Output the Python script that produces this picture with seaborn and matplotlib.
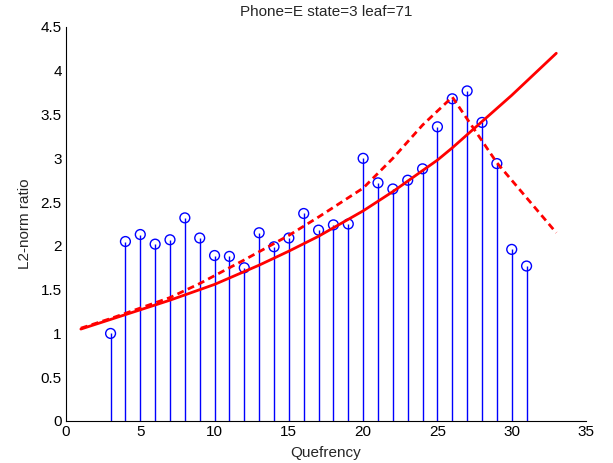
import numpy as np
import pandas as pd
import matplotlib
matplotlib.use("Agg")
import matplotlib.pyplot as plt
from matplotlib.ticker import FuncFormatter
import seaborn as sns

# Stem data
quefrency = [3, 4, 5, 6, 7, 8, 9, 10, 11, 12, 13, 14, 15, 16, 17, 18, 19,
             20, 21, 22, 23, 24, 25, 26, 27, 28, 29, 30, 31]
ratio = [1.00, 2.05, 2.13, 2.02, 2.07, 2.32, 2.09, 1.89, 1.88, 1.75, 2.15, 1.99,
         2.09, 2.37, 2.18, 2.24, 2.25, 3.00, 2.72, 2.65, 2.75, 2.88, 3.36, 3.68,
         3.77, 3.41, 2.94, 1.96, 1.77]

# Solid red curve
solid_x = [1, 3, 5, 7, 10, 13, 15, 17, 20, 22, 24, 25, 26, 27, 28, 30, 33]
solid_y = [1.05, 1.16, 1.27, 1.38, 1.56, 1.78, 1.94, 2.11, 2.40, 2.62, 2.86, 2.98,
           3.12, 3.27, 3.42, 3.72, 4.20]

# Dashed red curve
dash_x = [1, 3, 5, 7, 9, 10, 12, 15, 17, 20, 22, 24, 26, 27, 28, 29, 30, 31, 32, 33]
dash_y = [1.06, 1.17, 1.29, 1.41, 1.57, 1.66, 1.84, 2.12, 2.33, 2.66, 3.00, 3.38,
          3.70, 3.45, 3.20, 2.95, 2.75, 2.55, 2.35, 2.15]

title = "Phone=E state=3 leaf=71"
xlabel = "Quefrency"
ylabel = "L2-norm ratio"

sns.set_style("white")
plt.rcParams['font.family'] = ['Liberation Sans', 'DejaVu Sans']

fig = plt.figure(figsize=(6.13, 4.63), dpi=100)
ax = fig.add_axes([66/613, 1-421/463, (586-66)/613, (421-27)/463])

stem_df = pd.DataFrame({"q": quefrency, "r": ratio})
ax.vlines(stem_df["q"], 0, stem_df["r"], colors="#0000ff", linewidth=1.0, zorder=2)
sns.scatterplot(data=stem_df, x="q", y="r", ax=ax, marker="o", s=50,
                facecolor="none", edgecolor="#0000ff", linewidth=1.0, zorder=3)

solid_df = pd.DataFrame({"x": solid_x, "y": solid_y})
dash_df = pd.DataFrame({"x": dash_x, "y": dash_y})
sns.lineplot(data=solid_df, x="x", y="y", ax=ax, color="#ff0000", linewidth=2.0, zorder=4)
sns.lineplot(data=dash_df, x="x", y="y", ax=ax, color="#ff0000", linewidth=2.0,
             linestyle=(0, (2.5, 1.6)), zorder=4)

ax.set_xlim(0, 35)
ax.set_ylim(0, 4.5)
ax.set_xticks(np.arange(0, 36, 5))
ax.set_yticks(np.arange(0, 4.51, 0.5))
ax.yaxis.set_major_formatter(FuncFormatter(lambda v, p: f"{v:g}"))
ax.tick_params(direction="in", length=3, width=0.8, labelsize=11, colors="black", pad=3)
for s in ["top", "right"]:
    ax.spines[s].set_visible(False)
for s in ["left", "bottom"]:
    ax.spines[s].set_color("black")
    ax.spines[s].set_linewidth(0.8)
ax.set_xlabel(xlabel, fontsize=11, labelpad=5)
ax.set_ylabel(ylabel, fontsize=11, labelpad=6)
ax.set_title(title, fontsize=11, pad=8)

fig.savefig("out.png", dpi=100)
